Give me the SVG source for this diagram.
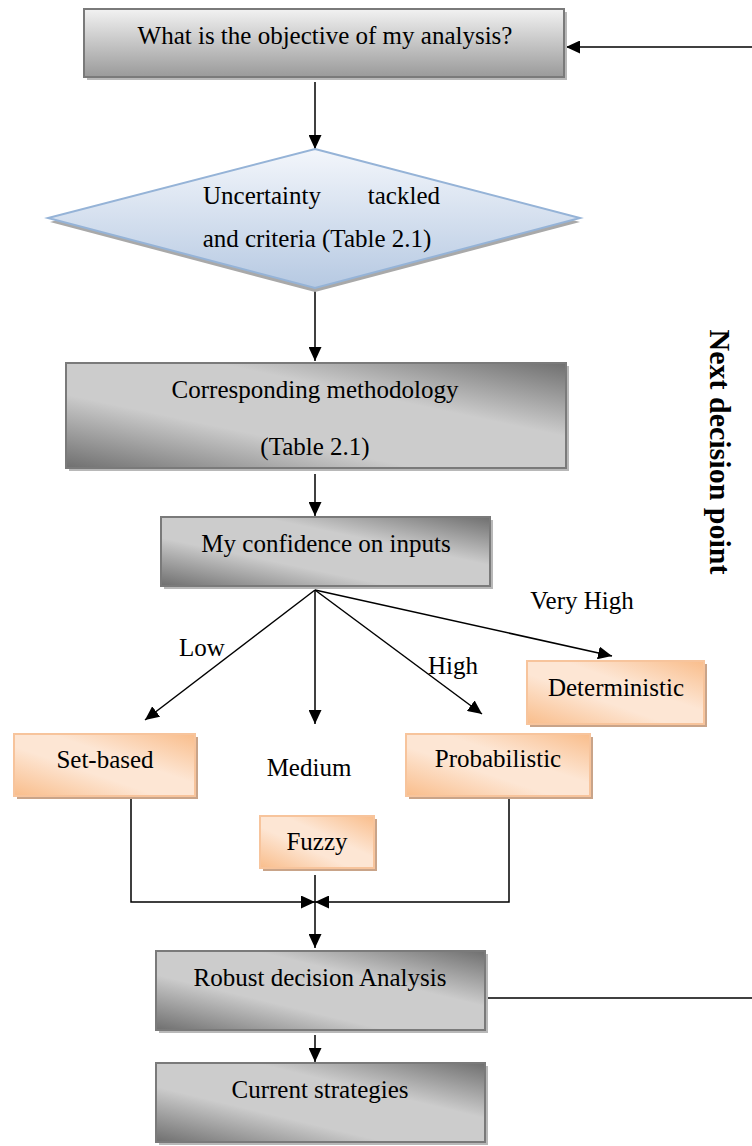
<svg xmlns="http://www.w3.org/2000/svg" width="752" height="1146" viewBox="0 0 752 1146">
  <style>
    .t { font-family: "Liberation Serif", "Times New Roman", serif; font-size: 25px; fill: #000; }
    .c { text-anchor: middle; }
    .big { font-size: 30px; font-weight: bold; }
    .gray { fill: url(#gGray); stroke: #7a7a7a; stroke-width: 2; }
    .gshadow { fill: #b8b8b8; }
    .orange { fill: url(#gOrange); stroke: #f7c49c; stroke-width: 2; }
    .oshadow { fill: #c9a489; }
    .ln { fill: none; stroke: #000; stroke-width: 1.5; }
    .arr { marker-end: url(#ah); }
  </style>
  <defs>
    <linearGradient id="gTop" x1="0" y1="0" x2="0" y2="1">
      <stop offset="0" stop-color="#f2f2f2"/>
      <stop offset="1" stop-color="#9a9a9a"/>
    </linearGradient>
    <linearGradient id="gGray" x1="0" y1="1" x2="1" y2="0">
      <stop offset="0" stop-color="#6f6f6f"/>
      <stop offset="0.35" stop-color="#cccccc"/>
      <stop offset="0.65" stop-color="#cccccc"/>
      <stop offset="1" stop-color="#6f6f6f"/>
    </linearGradient>
    <linearGradient id="gOrange" x1="0" y1="1" x2="1" y2="0">
      <stop offset="0" stop-color="#f9bd8b"/>
      <stop offset="0.4" stop-color="#fde6d4"/>
      <stop offset="0.6" stop-color="#fde6d4"/>
      <stop offset="1" stop-color="#f9bd8b"/>
    </linearGradient>
    <linearGradient id="gBlue" x1="0" y1="0" x2="0" y2="1">
      <stop offset="0" stop-color="#f3f6fb"/>
      <stop offset="1" stop-color="#b6c9e2"/>
    </linearGradient>
    <marker id="ah" viewBox="0 0 14 13" refX="14" refY="6.5" markerWidth="14" markerHeight="13" markerUnits="userSpaceOnUse" orient="auto">
      <path d="M0,0 L14,6.5 L0,13 z" fill="#000"/>
    </marker>
  </defs>

  <!-- connectors -->
  <g id="connectors">
    <path class="ln arr" d="M315,82 V149"/>
    <path class="ln arr" d="M315,290 V361"/>
    <path class="ln arr" d="M315,474 V516"/>
    <path class="ln arr" d="M315,590 L145,720"/>
    <path class="ln arr" d="M315,590 V724"/>
    <path class="ln arr" d="M315,590 L482,714"/>
    <path class="ln arr" d="M315,590 L612,656"/>
    <path class="ln arr" d="M131,797 V902 H315"/>
    <path class="ln arr" d="M509,797 V902 H315"/>
    <path class="ln arr" d="M315,875 V948"/>
    <path class="ln arr" d="M315,1035 V1062"/>
    <path class="ln" d="M485,998 H752"/>
    <path class="ln arr" d="M752,47 H566"/>
  </g>

  <!-- objective -->
  <g id="node-objective">
    <rect x="87" y="12" width="480" height="68" class="gshadow"/>
    <rect x="84" y="9" width="480" height="68" fill="url(#gTop)" stroke="#7a7a7a" stroke-width="2"/>
    <text x="325" y="44" class="t c">What is the objective of my analysis?</text>
  </g>

  <!-- decision diamond -->
  <g id="node-uncertainty">
    <path d="M315,153 L580,222 L315,292 L50,222 z" fill="#a9a9a9"/>
    <path d="M315,149 L580,218 L315,288 L48,218 z" fill="url(#gBlue)" stroke="#95b3d7" stroke-width="2"/>
    <text x="203" y="204" class="t">Uncertainty</text>
    <text x="440" y="204" class="t" text-anchor="end">tackled</text>
    <text x="317" y="247" class="t c">and criteria (Table 2.1)</text>
  </g>

  <!-- methodology -->
  <g id="node-methodology">
    <rect x="69" y="366" width="500" height="105" class="gshadow"/>
    <rect x="66" y="363" width="500" height="105" class="gray"/>
    <text x="315" y="398" class="t c">Corresponding methodology</text>
    <text x="315" y="455" class="t c">(Table 2.1)</text>
  </g>

  <!-- confidence -->
  <g id="node-confidence">
    <rect x="164" y="520" width="329" height="69" class="gshadow"/>
    <rect x="161" y="517" width="329" height="69" class="gray"/>
    <text x="326" y="552" class="t c">My confidence on inputs</text>
  </g>

  <!-- branch labels -->
  <g id="labels">
    <text x="202" y="656" class="t c">Low</text>
    <text x="453" y="674" class="t c">High</text>
    <text x="582" y="609" class="t c">Very High</text>
    <text x="309" y="776" class="t c">Medium</text>
  </g>

  <!-- set-based -->
  <g id="node-setbased">
    <rect x="17" y="737" width="181" height="62" class="oshadow"/>
    <rect x="14" y="734" width="181" height="62" class="orange"/>
    <text x="105" y="768" class="t c">Set-based</text>
  </g>

  <!-- probabilistic -->
  <g id="node-probabilistic">
    <rect x="409" y="737" width="184" height="62" class="oshadow"/>
    <rect x="406" y="734" width="184" height="62" class="orange"/>
    <text x="498" y="767" class="t c">Probabilistic</text>
  </g>

  <!-- deterministic -->
  <g id="node-deterministic">
    <rect x="530" y="664" width="177" height="63" class="oshadow"/>
    <rect x="527" y="661" width="177" height="63" class="orange"/>
    <text x="616" y="696" class="t c">Deterministic</text>
  </g>

  <!-- fuzzy -->
  <g id="node-fuzzy">
    <rect x="263" y="819" width="114" height="52" class="oshadow"/>
    <rect x="260" y="816" width="114" height="52" class="orange"/>
    <text x="317" y="850" class="t c">Fuzzy</text>
  </g>

  <!-- robust analysis -->
  <g id="node-robust">
    <rect x="159" y="954" width="329" height="79" class="gshadow"/>
    <rect x="156" y="951" width="329" height="79" class="gray"/>
    <text x="320" y="986" class="t c">Robust decision Analysis</text>
  </g>

  <!-- current strategies -->
  <g id="node-current">
    <rect x="159" y="1066" width="329" height="79" class="gshadow"/>
    <rect x="156" y="1063" width="329" height="79" class="gray"/>
    <text x="320" y="1098" class="t c">Current strategies</text>
  </g>

  <!-- loop-back caption -->
  <g id="node-next">
    <text x="0" y="0" class="t c big" transform="translate(710,452) rotate(90)">Next decision point</text>
  </g>
</svg>
